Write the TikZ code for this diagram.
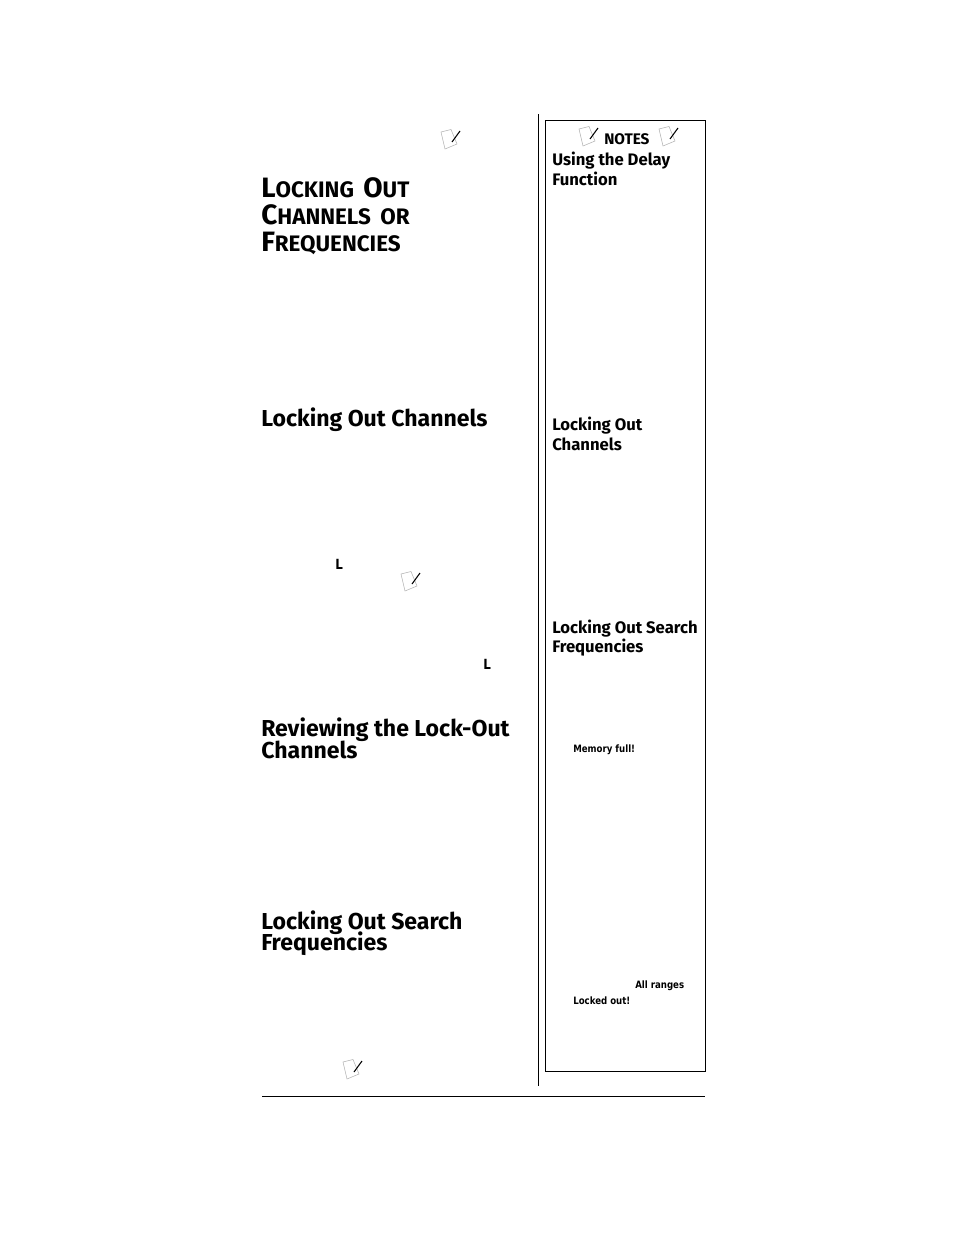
\documentclass[tikz,border=0pt]{standalone}
\usepackage{fontspec}
\setmainfont{Fira Sans}
\newfontfamily\lcdfont[FakeStretch=0.85]{DejaVu Sans}
\tikzset{
  headtext/.style={anchor=base west,inner sep=0pt,font=\bfseries\fontsize{17.3}{20}\selectfont},
  capstext/.style={anchor=base west,inner sep=0pt,font=\bfseries\fontsize{16.8}{20}\selectfont},
  sidetext/.style={anchor=base west,inner sep=0pt,font=\bfseries\fontsize{12.5}{14}\selectfont},
  lcdtext/.style={anchor=base west,inner sep=0pt,font=\lcdfont\bfseries\fontsize{7.6}{8}\selectfont},
  lcdmark/.style={anchor=base west,inner sep=0pt,font=\lcdfont\bfseries\fontsize{10.5}{12}\selectfont},
  noteicon/.pic={
    \draw[gray!60,fill=white,line width=0.4pt] (0,0) -- (10,-2.5) -- (16,12) -- (4,17) -- cycle;
    \draw[black,line width=0.8pt] (19,-1) -- (11,10);
  }
}
\newcommand{\capletter}[1]{{\fontsize{21}{24}\selectfont #1}}
\begin{document}
\begin{tikzpicture}[x=0.75pt,y=-0.75pt]
  \useasboundingbox (0,0) rectangle (954,1235);
  % rules and notes box
  \draw[line width=0.5pt] (538,114) -- (538,1086);
  \draw[line width=0.5pt] (545,120) rectangle (705.5,1071);
  \draw[line width=0.7pt] (262,1096) -- (705,1096);
  % note icons
  \foreach \x/\y in {441/132,579/129,659/129,401/574,343/1062}
    \pic at (\x,\y) {noteicon};
  % main column headings
  \node[capstext] (lockhead) at (261,197) {\capletter{L}OCKING\hspace{3pt} \capletter{O}UT};
  \node[capstext] (chanhead) at (261,224) {\capletter{C}HANNELS\hspace{3pt} OR};
  \node[capstext] (freqhead) at (261,251) {\capletter{F}REQUENCIES};
  \node[headtext] (chansub) at (261,426) {Locking Out Channels};
  \node[headtext] (revsub) at (261,736) {Reviewing the Lock-Out};
  \node[headtext] (revsubb) at (261,758) {Channels};
  \node[headtext] (searchsub) at (261,929) {Locking Out Search};
  \node[headtext] (searchsubb) at (261,950) {Frequencies};
  % side column
  \node[sidetext,font=\bfseries\fontsize{11.5}{12}\selectfont] (notes) at (604,144) {NOTES};
  \node[sidetext] (delay) at (552,165) {Using the Delay};
  \node[sidetext] (delayb) at (552,185) {Function};
  \node[sidetext] (lock) at (552,430) {Locking Out};
  \node[sidetext] (lockb) at (552,450) {Channels};
  \node[sidetext] (search) at (552,633) {Locking Out Search};
  \node[sidetext] (searchb) at (552,652) {Frequencies};
  % display texts
  \node[lcdmark] (lcdl) at (335,569) {L};
  \node[lcdmark] (lcdlb) at (483,669) {L};
  \node[lcdtext] (full) at (573,752) {Memory full!};
  \node[lcdtext] (ranges) at (635,988) {All ranges};
  \node[lcdtext] (locked) at (573,1004) {Locked out!};
\end{tikzpicture}
\end{document}
